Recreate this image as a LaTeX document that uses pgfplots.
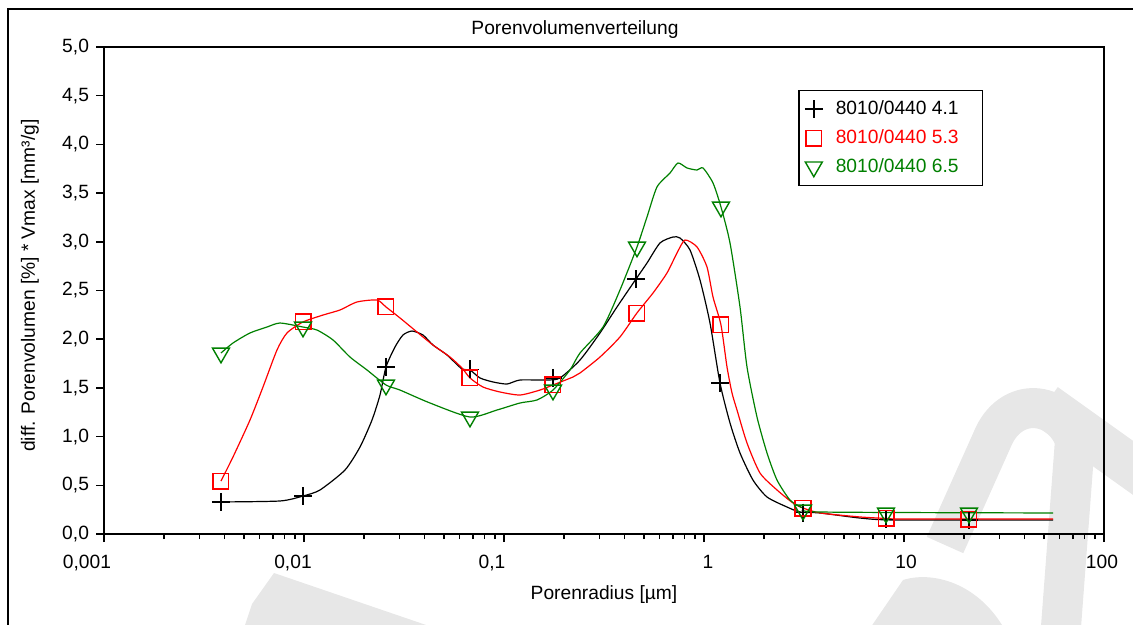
\documentclass[border=0pt]{standalone}
\usepackage{pgfplots}
\pgfplotsset{compat=1.18}
\usepackage{fontspec}
\setmainfont{Liberation Sans}
\definecolor{wm}{gray}{0.905}
\definecolor{grn}{RGB}{0,128,0}
\definecolor{rd}{RGB}{255,0,0}
\begin{document}
\begin{tikzpicture}[font=\fontsize{9.6}{11}\selectfont]
\path[use as bounding box] (0,0) rectangle (566.5pt,-312.5pt);
\begin{scope}
\clip (0,0) rectangle (566.5pt,-312.5pt);
\begin{scope}[x=0.5pt,y=-0.5pt]
  % watermark (light grey)
  \fill[wm] (240,640) -- (252,604) -- (274,573) -- (470,640) -- cycle;
  \fill[wm] (862,640) -- (903,580) .. controls (935,570) and (985,585) .. (1010,640) -- cycle;
  \draw[wm,line width=20pt,line cap=butt] (945,545) -- (992,440) .. controls (1010,395) and (1060,400) .. (1075,440) -- (1060,640);
  \draw[wm,line width=22pt,line cap=butt] (1045,405) -- (1150,480);
  % frame
  \draw[line width=1pt] (8,650) -- (8,9) -- (1150,9);
  \node[anchor=center, inner sep=0pt] at (575,30) {Porenvolumenverteilung};
\end{scope}
\end{scope}
\begin{axis}[
  at={(52pt,-267pt)}, anchor=south west, scale only axis,
  width=500pt, height=243.5pt,
  xmode=log, xmin=0.001, xmax=100, ymin=0, ymax=5,
  xtick={0.001,0.01,0.1,1,10,100},
  xticklabels={{0,001\hspace*{17pt}},{0,01\hspace*{11pt}},{0,1\hspace*{12pt}},{\hspace*{4pt}1},{\hspace*{2pt}10},{100\hspace*{2pt}}},
  xticklabel style={yshift=-3pt},
  ytick={0,0.5,1,1.5,2,2.5,3,3.5,4,4.5,5},
  yticklabels={{0,0},{0,5},{1,0},{1,5},{2,0},{2,5},{3,0},{3,5},{4,0},{4,5},{5,0}},
  yticklabel style={xshift=0pt},
  tick align=outside, xtick pos=bottom, ytick pos=left,
  major tick length=4pt, minor tick length=2.5pt,
  axis line style={line width=1pt},
  every tick/.style={black, line width=0.8pt},
  xlabel={Porenradius [µm]},
  xlabel style={at={(axis description cs:0.5,-0.125)}, anchor=center, inner sep=0pt},
  ylabel={diff. Porenvolumen [\%] * Vmax [mm³/g]},
  ylabel style={at={(axis description cs:-0.074,0.51)}, anchor=center, inner sep=0pt},
  legend style={at={(0.694,0.912)}, anchor=north west, draw=black, line width=0.8pt,
    row sep=2pt, column sep=4.5pt, inner xsep=3pt, inner ysep=3pt,
    font=\fontsize{9.6}{11}\selectfont},
  legend cell align=left,
]
% ---- lines
\addplot[black, line width=0.6pt, smooth, tension=0.4, forget plot] coordinates {
(0.003846,0.329) (0.007586,0.339) (0.009886,0.390) (0.012023,0.452) (0.016032,0.657)
(0.019055,0.893) (0.021878,1.170) (0.023988,1.427) (0.025704,1.715) (0.028510,1.920)
(0.031261,2.043) (0.034674,2.084) (0.039355,2.043) (0.044157,1.940) (0.051880,1.838)
(0.061660,1.694) (0.067608,1.684) (0.075858,1.602) (0.088105,1.561) (0.103514,1.540)
(0.120226,1.581) (0.164059,1.581) (0.190546,1.602) (0.239883,1.786) (0.301995,2.064)
(0.367282,2.331) (0.457088,2.618) (0.518800,2.782) (0.602560,2.988) (0.699842,3.049)
(0.758578,3.039) (0.851138,2.916) (0.954993,2.608) (1.071519,2.166) (1.202264,1.550)
(1.348963,1.140) (1.513561,0.832) (1.757924,0.554) (2.065380,0.380) (2.600160,0.277)
(3.019952,0.226) (3.801894,0.216) (6.025596,0.164) (9.0,0.144) (55.59,0.144)
};
\addplot[rd, line width=0.6pt, smooth, tension=0.4, forget plot] coordinates {
(0.003846,0.544) (0.004416,0.791) (0.005370,1.170) (0.006237,1.509) (0.007328,1.889)
(0.008222,2.064) (0.009886,2.177) (0.012445,2.248) (0.015136,2.300) (0.018408,2.382)
(0.023174,2.402) (0.025704,2.331) (0.030200,2.218) (0.036728,2.074) (0.044157,1.940)
(0.053703,1.817) (0.061660,1.704) (0.067608,1.602) (0.078524,1.509) (0.095499,1.458)
(0.120226,1.427) (0.151356,1.478) (0.175792,1.530) (0.221309,1.612) (0.239883,1.653)
(0.301995,1.817) (0.380189,2.023) (0.462000,2.269) (0.555904,2.474) (0.653131,2.680)
(0.732825,2.885) (0.803526,3.018) (0.922571,2.947) (1.035142,2.741) (1.109175,2.433)
(1.216000,2.146) (1.303167,1.715) (1.380384,1.448) (1.462177,1.273) (1.640590,0.934)
(1.905461,0.626) (2.317395,0.452) (2.786121,0.318) (3.126079,0.267) (3.801894,0.216)
(6.025596,0.175) (8.128,0.160) (10.0,0.154) (55.59,0.154)
};
\addplot[grn, line width=0.6pt, smooth, tension=0.4, forget plot] coordinates {
(0.003846,1.858) (0.004416,1.961) (0.005370,2.064) (0.006531,2.125) (0.007586,2.166)
(0.009886,2.125) (0.011614,2.094) (0.013964,1.992) (0.016982,1.817) (0.020654,1.684)
(0.025704,1.530) (0.030200,1.478) (0.042658,1.345) (0.067608,1.201) (0.092257,1.273)
(0.120226,1.345) (0.146218,1.376) (0.175792,1.478) (0.213796,1.684) (0.239883,1.858)
(0.312608,2.125) (0.380189,2.505) (0.462400,2.947) (0.518800,3.255) (0.582103,3.563)
(0.676083,3.706) (0.741310,3.809) (0.822243,3.758) (0.922571,3.737) (0.988553,3.758)
(1.109175,3.604) (1.216000,3.357) (1.348963,2.988) (1.513561,2.331) (1.640590,1.715)
(1.840772,1.201) (2.065380,0.832) (2.317395,0.554) (2.691535,0.349) (3.126079,0.267)
(3.801894,0.226) (55.59,0.216)
};
% ---- markers
\addplot[only marks, black, mark=+, mark size=4.5pt, mark options={line width=0.7pt}] coordinates {
(0.003846,0.329) (0.009886,0.390) (0.025704,1.715) (0.067608,1.690) (0.175792,1.602)
(0.457088,2.618) (1.202264,1.550) (3.126,0.220) (8.128,0.150) (21.13,0.144)
};
\addlegendentry{8010/0440 4.1\hspace*{7pt}}
\addplot[only marks, rd, mark=square, mark size=3.9pt, mark options={line width=0.7pt}] coordinates {
(0.003846,0.544) (0.009886,2.177) (0.025704,2.331) (0.067608,1.602) (0.175792,1.530)
(0.462,2.269) (1.216,2.146) (3.126,0.267) (8.128,0.164) (21.13,0.150)
};
\addlegendentry{\textcolor{rd}{8010/0440 5.3}\hspace*{7pt}}
\addplot[only marks, grn, mark=triangle, mark size=4.9pt, mark options={rotate=180, line width=0.7pt}] coordinates {
(0.003846,1.858) (0.009886,2.125) (0.025704,1.530) (0.067608,1.201) (0.175792,1.478)
(0.4624,2.947) (1.216,3.357) (3.126,0.246) (8.128,0.216) (21.13,0.216)
};
\addlegendentry{\textcolor{grn}{8010/0440 6.5}\hspace*{7pt}}
\end{axis}
\end{tikzpicture}
\end{document}
